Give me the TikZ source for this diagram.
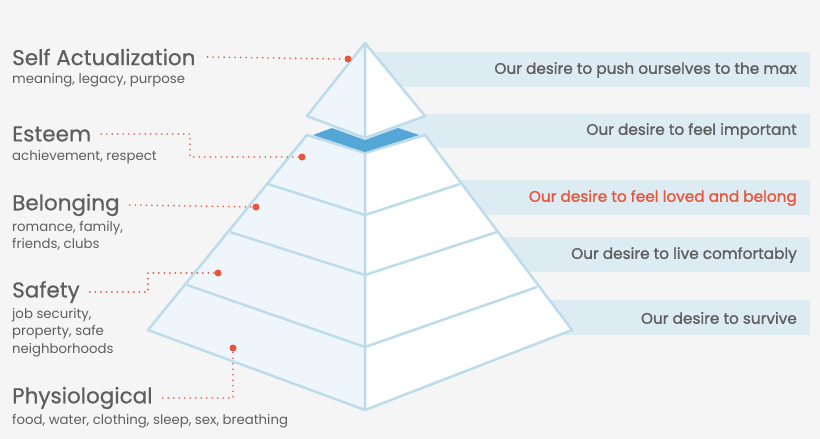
\documentclass[tikz,border=0pt]{standalone}
\usepackage{fontspec}
\setmainfont{Poppins}
\newfontfamily\semifont{Poppins}[FakeBold=1.2]
\newfontfamily\medfont{Poppins}[FakeBold=0.6]
\usetikzlibrary{positioning}
\definecolor{bggray}{HTML}{F5F5F5}
\definecolor{edgeblue}{HTML}{BCDCEC}
\definecolor{faceblue}{HTML}{EEF6FB}
\definecolor{barblue}{HTML}{DDEBF3}
\definecolor{deepblue}{HTML}{54A6D6}
\definecolor{txtgray}{HTML}{5E5E5E}
\definecolor{accent}{HTML}{E8553A}
\tikzset{
  title/.style={anchor=west,inner sep=0pt,text=txtgray,font=\medfont\fontsize{21.5}{22}\selectfont},
  sub/.style={anchor=north west,inner sep=0pt,text=txtgray,align=left,font=\fontsize{13.3}{17.5}\selectfont},
  desire/.style={anchor=east,inner sep=0pt,text=txtgray,font=\semifont\fontsize{15.3}{16}\selectfont},
  bar/.style={fill=barblue,draw=none},
  lead/.style={accent,line width=1.8pt,line cap=round,dash pattern=on 0pt off 5.5pt},
  dot/.style={circle,fill=accent,inner sep=0pt,minimum size=7pt}
}
\begin{document}
\begin{tikzpicture}[x=1pt,y=-1pt]
    % background
    \fill[bggray] (0,0) rectangle (820,439);
    \useasboundingbox (0,0) rectangle (820,439);

    % bars on the right
    \fill[bar] (370,52) rectangle (810,87);
    \fill[bar] (370,114) rectangle (810,148);
    \fill[bar] (370,180) rectangle (810,215);
    \fill[bar] (370,237) rectangle (810,272);
    \fill[bar] (370,300) rectangle (810,335);

    % lower pyramid
    \filldraw[fill=faceblue,draw=edgeblue,line width=2.5pt,line join=round]
        (307,135) -- (365,153) -- (365,410) -- (148,330) -- cycle;
    \filldraw[fill=white,draw=edgeblue,line width=2.5pt,line join=round]
        (425,135) -- (365,153) -- (365,410) -- (572,330) -- cycle;
    \fill[deepblue] (313,135) -- (332,128) -- (365,140) -- (398,128) -- (419,135) -- (365,152) -- cycle;
    \draw[edgeblue,line width=2.5pt] (268,184) -- (365,215) -- (460,184);
    \draw[edgeblue,line width=2.5pt] (230,232) -- (365,275) -- (497,232);
    \draw[edgeblue,line width=2.5pt] (187,285) -- (365,347) -- (537,287);

    % top cap
    \filldraw[fill=faceblue,draw=edgeblue,line width=2.5pt,line join=round]
        (365,43) -- (365,138) -- (307,116) -- cycle;
    \filldraw[fill=white,draw=edgeblue,line width=2.5pt,line join=round]
        (365,43) -- (365,138) -- (425,116) -- cycle;

    % left labels
    \node[title] (selfT) at (12,57) {Self Actualization};
    \node[sub] (selfS) at (12,73) {meaning, legacy, purpose};
    \node[title] (estT) at (12,134) {Esteem};
    \node[sub] (estS) at (12,150) {achievement, respect};
    \node[title] (belT) at (12,205) {Belonging};
    \node[sub] (belS) at (12,221) {romance, family,\\friends, clubs};
    \node[title] (safT) at (12,292) {Safety};
    \node[sub] (safS) at (12,308) {job security,\\property, safe\\neighborhoods};
    \node[title] (phyT) at (12,398) {Physiological};
    \node[sub] (phyS) at (12,414) {food, water, clothing, sleep, sex, breathing};

    % dots and leaders
    \node[dot] (selfD) at (348,59) {};
    \node[dot] (estD) at (302,157) {};
    \node[dot] (belD) at (256,207) {};
    \node[dot] (safD) at (218,273) {};
    \node[dot] (phyD) at (233,348) {};
    \draw[lead] ([xshift=12pt]selfT.east) -- (selfD);
    \draw[lead] ([xshift=10pt]estT.east) -| (190,157) -- (estD);
    \draw[lead] ([xshift=10pt]belT.east) -- (belD);
    \draw[lead] ([xshift=10pt]safT.east) -| (148,273) -- (safD);
    \draw[lead] ([xshift=10pt]phyT.east) -| (phyD);

    % right texts
    \node[desire] (d1) at (797,70) {Our desire to push ourselves to the max};
    \node[desire] (d2) at (797,131) {Our desire to feel important};
    \node[desire,text=accent] (d3) at (797,198) {Our desire to feel loved and belong};
    \node[desire] (d4) at (797,255) {Our desire to live comfortably};
    \node[desire] (d5) at (797,318) {Our desire to survive};
\end{tikzpicture}
\end{document}
